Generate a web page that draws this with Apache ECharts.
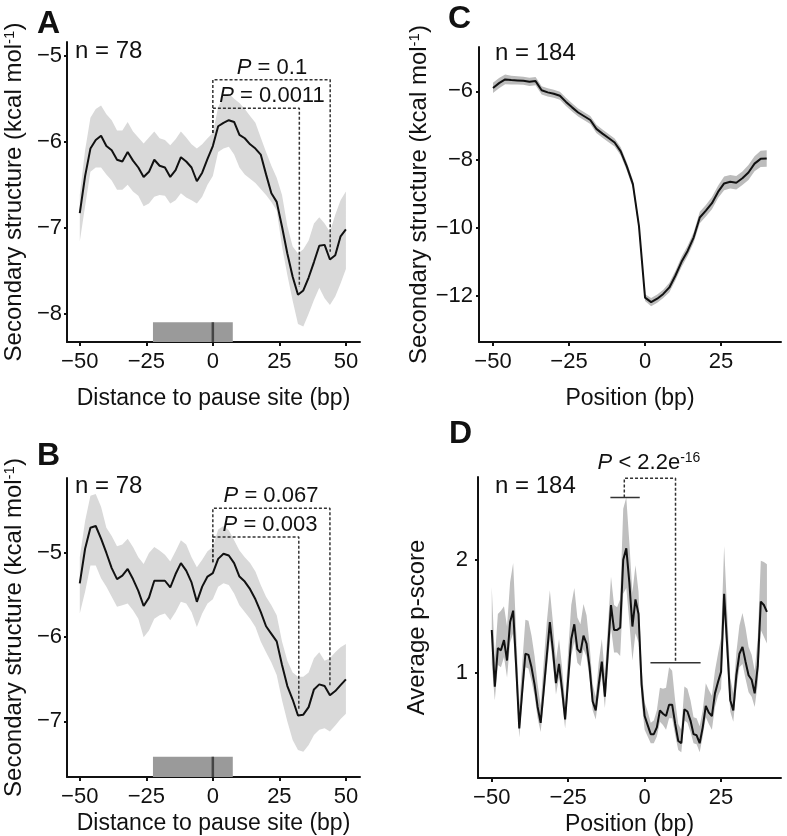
<!DOCTYPE html>
<html>
<head>
<meta charset="utf-8">
<script src="https://cdn.jsdelivr.net/npm/echarts@6.0.0/dist/echarts.min.js"></script>
<style>
  html, body { margin: 0; padding: 0; background: #fff; }
  #chart { width: 787px; height: 836px; }
</style>
</head>
<body>
<div id="chart"></div>
<script>
const FONT = 'Liberation Sans, Arial, sans-serif'
const INK = '#111'

function range(from, to, step) {
  const out = []
  for (let v = from; v <= to; v += step) out.push(v)
  return out
}

// positions (bp)
const posAB = range(-50, 50, 2)
const posC = range(-50, 40, 2)
const posD = range(-50, 40, 1)

// panel A: mean and band
const aMean = [-6.83, -6.40, -6.08, -5.98, -5.93, -6.05, -6.10, -6.21, -6.23, -6.12, -6.22, -6.30, -6.41, -6.35, -6.21, -6.28, -6.30, -6.41, -6.33, -6.18, -6.23, -6.30, -6.46, -6.36, -6.20, -6.05, -5.82, -5.78, -5.75, -5.77, -5.92, -5.96, -6.03, -6.08, -6.15, -6.38, -6.60, -6.70, -6.99, -7.30, -7.57, -7.78, -7.73, -7.58, -7.40, -7.21, -7.20, -7.37, -7.32, -7.10, -7.02]
const aUpper = [-6.62, -6.10, -5.72, -5.62, -5.58, -5.68, -5.75, -5.87, -5.87, -5.77, -5.88, -5.95, -6.02, -5.95, -5.88, -5.96, -5.98, -6.04, -5.97, -5.88, -5.95, -6.03, -6.08, -6.03, -5.96, -5.90, -5.60, -5.47, -5.44, -5.50, -5.55, -5.62, -5.70, -5.78, -5.95, -6.12, -6.28, -6.42, -6.62, -6.98, -7.22, -7.30, -7.25, -7.15, -6.95, -6.88, -6.95, -7.05, -6.85, -6.68, -6.58]
const aLower = [-7.16, -6.75, -6.35, -6.30, -6.30, -6.38, -6.45, -6.56, -6.56, -6.50, -6.58, -6.63, -6.75, -6.72, -6.64, -6.62, -6.63, -6.72, -6.68, -6.60, -6.65, -6.68, -6.72, -6.64, -6.50, -6.40, -6.12, -6.08, -6.06, -6.15, -6.30, -6.38, -6.43, -6.48, -6.55, -6.62, -6.70, -6.80, -7.22, -7.55, -7.85, -8.12, -8.15, -8.00, -7.84, -7.70, -7.82, -7.90, -7.80, -7.65, -7.48]

// panel B: mean and band
const bMean = [-5.36, -4.95, -4.70, -4.68, -4.83, -5.00, -5.18, -5.31, -5.27, -5.19, -5.31, -5.45, -5.63, -5.53, -5.33, -5.33, -5.33, -5.41, -5.25, -5.12, -5.21, -5.35, -5.58, -5.40, -5.28, -5.24, -5.07, -5.01, -5.03, -5.12, -5.28, -5.34, -5.43, -5.55, -5.70, -5.87, -5.96, -6.05, -6.33, -6.58, -6.74, -6.93, -6.92, -6.83, -6.62, -6.56, -6.58, -6.69, -6.64, -6.57, -6.50]
const bUpper = [-5.05, -4.62, -4.32, -4.30, -4.45, -4.70, -4.80, -4.92, -4.90, -4.83, -4.93, -5.05, -5.13, -5.00, -4.93, -4.97, -5.02, -5.10, -4.98, -4.85, -4.90, -5.05, -5.17, -5.08, -4.98, -4.93, -4.72, -4.68, -4.73, -4.85, -4.97, -5.05, -5.12, -5.22, -5.38, -5.52, -5.62, -5.74, -6.05, -6.28, -6.42, -6.47, -6.47, -6.42, -6.25, -6.18, -6.28, -6.25, -6.18, -6.12, -6.08]
const bLower = [-5.72, -5.46, -5.15, -5.15, -5.30, -5.40, -5.52, -5.64, -5.62, -5.60, -5.68, -5.78, -6.00, -5.92, -5.78, -5.74, -5.72, -5.80, -5.70, -5.58, -5.60, -5.70, -5.88, -5.72, -5.60, -5.55, -5.40, -5.36, -5.38, -5.48, -5.62, -5.70, -5.78, -5.88, -6.05, -6.18, -6.30, -6.45, -6.75, -7.00, -7.22, -7.34, -7.36, -7.28, -7.16, -7.10, -7.08, -7.12, -7.05, -6.97, -6.91]

// panel C: mean and half-width of band
const cMean = [-5.90, -5.76, -5.65, -5.67, -5.68, -5.69, -5.72, -5.70, -5.97, -6.03, -6.07, -6.13, -6.31, -6.47, -6.62, -6.73, -6.84, -7.10, -7.24, -7.37, -7.50, -7.76, -8.20, -8.72, -9.95, -12.05, -12.18, -12.08, -11.94, -11.75, -11.40, -11.00, -10.68, -10.28, -9.70, -9.50, -9.28, -8.95, -8.70, -8.65, -8.68, -8.55, -8.38, -8.12, -7.98, -7.97]
const cErr = [0.15, 0.15, 0.14, 0.13, 0.12, 0.12, 0.12, 0.12, 0.12, 0.12, 0.12, 0.12, 0.12, 0.12, 0.12, 0.12, 0.12, 0.12, 0.12, 0.12, 0.12, 0.12, 0.12, 0.12, 0.12, 0.10, 0.12, 0.12, 0.12, 0.14, 0.14, 0.15, 0.15, 0.15, 0.17, 0.17, 0.18, 0.18, 0.20, 0.20, 0.20, 0.20, 0.22, 0.22, 0.24, 0.24]

// panel D: mean p-score and band (distance above / below the mean)
const dMean = [1.38, 0.88, 1.22, 1.20, 1.29, 1.11, 1.45, 1.55, 1.05, 0.51,
  0.85, 1.17, 1.16, 1.05, 0.90, 0.70, 0.56, 0.85, 1.15, 1.45,
  1.20, 0.91, 1.08, 0.85, 0.59, 0.95, 1.30, 1.43, 1.21, 1.18,
  1.33, 1.26, 1.05, 0.75, 0.67, 0.90, 1.10, 0.79, 1.20, 1.60,
  1.38, 1.38, 1.40, 2.00, 2.10, 1.80, 1.41, 1.65, 1.52, 0.90,
  0.62, 0.54, 0.46, 0.46, 0.52, 0.67, 0.64, 0.62, 0.72, 0.72,
  0.55, 0.40, 0.38, 0.68, 0.66, 0.58, 0.46, 0.45, 0.38, 0.52,
  0.71, 0.65, 0.62, 0.82, 0.92, 1.01, 1.70, 1.24, 0.76, 0.67,
  0.98, 1.17, 1.23, 1.10, 0.98, 0.94, 0.82, 1.06, 1.63, 1.60,
  1.54]
const dUp = [0.38, 0.25, 0.30, 0.35, 0.30, 0.30, 0.35, 0.42, 0.30, 0.20,
  0.25, 0.30, 0.30, 0.28, 0.25, 0.20, 0.15, 0.25, 0.30, 0.28,
  0.25, 0.20, 0.22, 0.20, 0.15, 0.25, 0.30, 0.32, 0.28, 0.25,
  0.28, 0.25, 0.20, 0.15, 0.12, 0.20, 0.20, 0.20, 0.22, 0.25,
  0.22, 0.20, 0.25, 0.45, 0.45, 0.35, 0.30, 0.30, 0.20, 0.15,
  0.12, 0.12, 0.10, 0.12, 0.15, 0.20, 0.22, 0.25, 0.33, 0.30,
  0.20, 0.15, 0.12, 0.20, 0.20, 0.18, 0.15, 0.15, 0.15, 0.15,
  0.20, 0.20, 0.18, 0.20, 0.25, 0.30, 0.42, 0.30, 0.20, 0.15,
  0.20, 0.25, 0.30, 0.30, 0.25, 0.22, 0.20, 0.25, 0.36, 0.38,
  0.42]
const dLo = [0.30, 0.12, 0.15, 0.15, 0.15, 0.15, 0.18, 0.20, 0.15, 0.08,
  0.10, 0.12, 0.12, 0.12, 0.10, 0.10, 0.08, 0.10, 0.12, 0.15,
  0.12, 0.10, 0.12, 0.10, 0.08, 0.10, 0.15, 0.15, 0.12, 0.12,
  0.12, 0.12, 0.10, 0.08, 0.08, 0.10, 0.12, 0.10, 0.15, 0.20,
  0.20, 0.20, 0.25, 0.30, 0.35, 0.35, 0.30, 0.30, 0.25, 0.15,
  0.12, 0.10, 0.08, 0.08, 0.08, 0.10, 0.10, 0.12, 0.12, 0.12,
  0.10, 0.08, 0.08, 0.10, 0.10, 0.10, 0.08, 0.08, 0.08, 0.08,
  0.10, 0.10, 0.12, 0.12, 0.12, 0.15, 0.20, 0.15, 0.10, 0.10,
  0.12, 0.12, 0.15, 0.15, 0.15, 0.15, 0.12, 0.15, 0.25, 0.28,
  0.28]

// annotation geometry in data units
const pauseWindow = [-22.5, 7.5]
const aBarTop = -8.1
const bBarTop = -7.42
const aBracketOuter = [[0, -5.90], [0, -5.28], [44.1, -5.28], [44.1, -7.28]]
const aBracketInner = [[0, -5.90], [0, -5.61], [32.5, -5.61], [32.5, -7.69]]
const bBracketOuter = [[0, -5.11], [0, -4.47], [44, -4.47], [44, -6.57]]
const bBracketInner = [[0, -5.11], [0, -4.81], [32.3, -4.81], [32.3, -6.87]]
const dBracket = [[-6.65, 2.55], [-6.65, 2.72], [10.1, 2.72], [10.1, 1.09]]
const dBarPeak = [[-11.2, 2.55], [-1.6, 2.55]]
const dBarAfter = [[1.9, 1.09], [18.3, 1.09]]

// axis ranges and ticks
const xRangeAB = [-54.8, 55.3]
const xRangeC = [-54.6, 44.7]
const xRangeD = [-54.5, 44.6]
const yRangeA = [-8.33, -4.84]
const yRangeB = [-7.66, -4.11]
const yRangeC = [-13.35, -4.70]
const yRangeD = [0.073, 2.73]
const xTicksAB = [-50, -25, 0, 25, 50]
const xTicksCD = [-50, -25, 0, 25]
const yTicksA = [-8, -7, -6, -5]
const yTicksB = [-7, -6, -5]
const yTicksC = [-12, -10, -8, -6]
const yTicksD = [1, 2]

const chart = echarts.init(document.getElementById('chart'))

const minusLabel = (v) => String(v).replace('-', '\u2212')

function xAxisCfg(gridIndex, rng, ticks, name, nameGap, margin) {
  return {
    type: 'value', gridIndex, min: rng[0], max: rng[1],
    name, nameLocation: 'middle', nameGap,
    nameTextStyle: { fontSize: 23, color: INK, fontFamily: FONT },
    axisLine: { show: true, onZero: false, lineStyle: { color: INK, width: 2 } },
    axisTick: { show: true, length: 4, customValues: ticks, lineStyle: { color: INK, width: 2 } },
    axisLabel: { fontSize: 22, color: INK, fontFamily: FONT, margin, customValues: ticks, formatter: minusLabel },
    splitLine: { show: false }
  }
}

function yAxisCfg(gridIndex, rng, ticks, name, nameGap, margin) {
  return {
    type: 'value', gridIndex, min: rng[0], max: rng[1],
    name, nameLocation: 'middle', nameGap,
    nameTextStyle: {
      fontSize: 24, color: INK, fontFamily: FONT,
      rich: { sup: { fontSize: 15, color: INK, fontFamily: FONT, verticalAlign: 'top', padding: [0, 0, 10, 0] } }
    },
    axisLine: { show: true, onZero: false, lineStyle: { color: INK, width: 2 } },
    axisTick: { show: true, length: 3, customValues: ticks, lineStyle: { color: INK, width: 2 } },
    axisLabel: { fontSize: 22, color: INK, fontFamily: FONT, margin, customValues: ticks, formatter: minusLabel },
    splitLine: { show: false }
  }
}

function bandSeries(idx, xs, lo, hi, color) {
  return {
    type: 'custom', xAxisIndex: idx, yAxisIndex: idx, silent: true, z: 1,
    data: xs.map((x, i) => [x, lo[i], hi[i]]),
    encode: { x: 0, y: [1, 2] },
    renderItem(params, api) {
      if (params.dataIndex !== 0) return
      const top = xs.map((x, i) => api.coord([x, hi[i]]))
      const bottom = xs.map((x, i) => api.coord([x, lo[i]])).reverse()
      return { type: 'polygon', shape: { points: top.concat(bottom) }, style: { fill: color } }
    }
  }
}

function meanSeries(idx, xs, ys, extra) {
  return Object.assign({
    type: 'line', xAxisIndex: idx, yAxisIndex: idx, z: 3,
    data: xs.map((x, i) => [x, ys[i]]),
    showSymbol: false, symbol: 'none', silent: true,
    lineStyle: { color: INK, width: 2 }
  }, extra || {})
}

function pathSeries(idx, pts, style) {
  return {
    type: 'line', xAxisIndex: idx, yAxisIndex: idx, z: 4,
    data: pts, showSymbol: false, symbol: 'none', silent: true,
    lineStyle: style
  }
}

const dashed = { color: '#333', width: 1.5, type: [3, 2] }
const solidBar = { color: '#333', width: 1.5 }

function pauseArea(yBottom, yTop) {
  return {
    silent: true, itemStyle: { color: '#9a9a9a' },
    data: [[{ coord: [pauseWindow[0], yTop] }, { coord: [pauseWindow[1], yBottom] }]]
  }
}

const supName = 'Secondary structure (kcal mol{sup|-1})'

function pText(x, y, txt) {
  return {
    type: 'text', x, y, z: 10,
    style: {
      text: '{i|P}' + txt, fill: INK, font: '22px ' + FONT,
      align: 'center', verticalAlign: 'middle', textAlign: 'center', textVerticalAlign: 'middle',
      rich: { i: { fontStyle: 'italic', fontSize: 22, fontFamily: FONT, fill: INK } }
    }
  }
}

function plainText(x, y, txt, font) {
  return {
    type: 'text', x, y, z: 10,
    style: { text: txt, fill: INK, font, align: 'left', verticalAlign: 'top', textAlign: 'left', textVerticalAlign: 'top' }
  }
}

chart.setOption({
  animation: false,
  backgroundColor: '#fff',
  textStyle: { fontFamily: FONT },
  grid: [
    { left: 67, top: 42, width: 293, height: 300, outerBoundsMode: 'none' },
    { left: 67, top: 478, width: 293, height: 299, outerBoundsMode: 'none' },
    { left: 479, top: 47, width: 302, height: 295, outerBoundsMode: 'none' },
    { left: 478, top: 477, width: 303, height: 301, outerBoundsMode: 'none' }
  ],
  xAxis: [
    xAxisCfg(0, xRangeAB, xTicksAB, 'Distance to pause site (bp)', 45, 9),
    xAxisCfg(1, xRangeAB, xTicksAB, 'Distance to pause site (bp)', 35, 9),
    xAxisCfg(2, xRangeC, xTicksCD, 'Position (bp)', 45, 9),
    xAxisCfg(3, xRangeD, xTicksCD, 'Position (bp)', 35, 9)
  ],
  yAxis: [
    yAxisCfg(0, yRangeA, yTicksA, supName, 40, 5),
    yAxisCfg(1, yRangeB, yTicksB, supName, 40, 5),
    yAxisCfg(2, yRangeC, yTicksC, supName, 45, 6),
    yAxisCfg(3, yRangeD, yTicksD, 'Average p-score', 49, 10)
  ],
  series: [
    bandSeries(0, posAB, aLower, aUpper, '#d9d9d9'),
    bandSeries(1, posAB, bLower, bUpper, '#d9d9d9'),
    bandSeries(2, posC, cMean.map((v, i) => v - cErr[i]), cMean.map((v, i) => v + cErr[i]), '#bcbcbc'),
    bandSeries(3, posD, dMean.map((v, i) => v - dLo[i]), dMean.map((v, i) => v + dUp[i]), '#bfbfbf'),
    meanSeries(0, posAB, aMean, { markArea: pauseArea(yRangeA[0], aBarTop) }),
    meanSeries(1, posAB, bMean, { markArea: pauseArea(yRangeB[0], bBarTop) }),
    meanSeries(2, posC, cMean),
    meanSeries(3, posD, dMean),
    pathSeries(0, [[0, yRangeA[0]], [0, aBarTop]], { color: '#444', width: 2.5 }),
    pathSeries(1, [[0, yRangeB[0]], [0, bBarTop]], { color: '#444', width: 2.5 }),
    pathSeries(0, aBracketOuter, dashed),
    pathSeries(0, aBracketInner, dashed),
    pathSeries(1, bBracketOuter, dashed),
    pathSeries(1, bBracketInner, dashed),
    pathSeries(3, dBracket, dashed),
    pathSeries(3, dBarPeak, solidBar),
    pathSeries(3, dBarAfter, solidBar)
  ],
  graphic: [
    plainText(37, 8, 'A', 'bold 32px ' + FONT),
    plainText(37, 440, 'B', 'bold 32px ' + FONT),
    plainText(448, 3, 'C', 'bold 32px ' + FONT),
    plainText(449, 418, 'D', 'bold 32px ' + FONT),
    plainText(75, 39, 'n = 78', '24px ' + FONT),
    plainText(75, 474, 'n = 78', '24px ' + FONT),
    plainText(495, 41, 'n = 184', '24px ' + FONT),
    plainText(495, 474, 'n = 184', '24px ' + FONT),
    pText(272, 68, ' = 0.1'),
    pText(272, 96, ' = 0.0011'),
    pText(271, 496, ' = 0.067'),
    pText(270, 525, ' = 0.003'),
    {
      type: 'text', x: 649, y: 463, z: 10,
      style: {
        text: '{i|P} < 2.2e{sup|-16}', fill: INK, font: '22px ' + FONT,
        align: 'center', verticalAlign: 'middle', textAlign: 'center', textVerticalAlign: 'middle',
        rich: {
          i: { fontStyle: 'italic', fontSize: 22, fontFamily: FONT, fill: INK },
          sup: { fontSize: 14, fontFamily: FONT, fill: INK, verticalAlign: 'top', padding: [0, 0, 10, 0] }
        }
      }
    }
  ]
})
</script>
</body>
</html>
